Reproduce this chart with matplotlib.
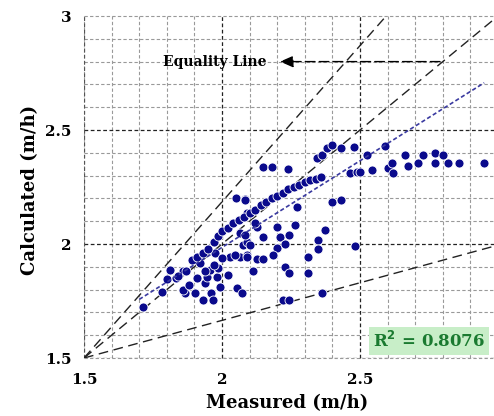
import matplotlib
matplotlib.use("Agg")
import matplotlib.pyplot as plt
import numpy as np

# scatter points (measured, calculated)
measured = [
    1.714, 1.783, 1.80, 1.833, 1.81, 1.859, 1.866, 1.902, 1.931, 1.938,
    1.945, 1.96, 1.967, 1.957, 1.982, 1.993, 1.986, 2.022, 2.054, 2.029,
    2.065, 1.975, 1.92, 2.047, 2.076, 2.09, 2.09, 2.065, 2.051, 2.083,
    2.09, 2.083, 2.127, 2.2, 2.265, 2.149, 2.21, 2.243, 2.373, 2.10,
    2.2, 2.228, 2.348, 2.348, 2.482, 2.09, 2.127, 2.149, 2.185, 2.312,
    2.112, 2.228, 2.243, 2.312, 2.072, 2.221, 2.243, 2.362, 2.083, 2.12,
    2.27, 2.40, 2.43,
    # upper row
    2.149, 2.18, 2.24, 2.344, 2.362, 2.38, 2.40, 2.43, 2.48, 2.525,
    2.59, 2.663, 2.728, 2.772, 2.80,
    # middle row
    2.464, 2.49, 2.5, 2.543, 2.60, 2.616, 2.62, 2.674, 2.71, 2.772,
    2.82, 2.86, 2.95,
    # dense band
    1.84, 1.87, 1.89, 1.91, 1.93, 1.95, 1.97, 1.985, 2.0, 2.02,
    2.04, 2.06, 2.08, 2.10, 2.12, 2.14, 2.16, 2.18, 2.20, 2.22,
    2.24, 2.26, 2.28, 2.30, 2.32, 2.34, 2.36,
    1.86, 1.88, 1.91, 1.94, 1.97, 2.0,
]
calculated = [
    1.724, 1.789, 1.846, 1.85, 1.886, 1.882, 1.785, 1.785, 1.754, 1.829,
    1.855, 1.785, 1.754, 1.886, 1.855, 1.811, 1.895, 1.864, 1.807, 1.943,
    1.943, 1.961, 1.917, 1.952, 1.996, 2.009, 1.952, 2.048, 2.202, 2.197,
    2.136, 2.04, 2.075, 2.075, 2.083, 2.031, 2.031, 2.04, 2.061, 1.996,
    1.982, 2.0, 2.018, 1.978, 1.991, 1.943, 1.934, 1.934, 1.952, 1.943,
    1.882, 1.899, 1.873, 1.873, 1.785, 1.754, 1.754, 1.785, 2.193, 2.092,
    2.162, 2.184, 2.193,
    2.338, 2.338, 2.33, 2.377, 2.39, 2.42, 2.434, 2.42, 2.425, 2.39,
    2.43, 2.39, 2.39, 2.40, 2.39,
    2.31, 2.316, 2.316, 2.325, 2.333, 2.355, 2.31, 2.342, 2.355, 2.355,
    2.355, 2.355, 2.355,
    1.86, 1.88, 1.93, 1.945, 1.96, 1.98, 2.01, 2.035, 2.055, 2.07,
    2.09, 2.105, 2.12, 2.135, 2.15, 2.17, 2.185, 2.2, 2.21, 2.225,
    2.24, 2.25, 2.26, 2.27, 2.28, 2.285, 2.295,
    1.80, 1.82, 1.85, 1.88, 1.91, 1.94,
]

# reference lines through (1.5, 1.5): slopes
ref_slopes = [1.37, 1.0, 0.33]
trend_x = [1.70, 2.95]
trend_slope, trend_icept = 0.76, 0.465

SERIF = "DejaVu Serif"
fig = plt.figure(figsize=(4.94, 4.16), dpi=100)
ax = fig.add_axes([84 / 494, 58 / 416, 414 / 494, 342 / 416])
ax.set_xlim(1.5, 3)
ax.set_ylim(1.5, 3)

# grid: gray dashed every 0.1, darker on the 0.5 lines
ticks = np.round(np.arange(1.5, 3.001, 0.1), 2)
for t in ticks:
    major = abs((t * 2) - round(t * 2)) < 1e-6 and t < 2.99 and t > 1.51
    col = "#222222" if major else "#999999"
    lw = 0.9 if major else 0.8
    ax.axvline(t, color=col, lw=lw, ls=(0, (3, 2)), zorder=1, clip_on=False)
    ax.axhline(t, color=col, lw=lw, ls=(0, (3, 2)), zorder=1, clip_on=False)
ax.axvline(1.5, color="#555555", lw=0.9, ls=(0, (3, 2)), zorder=1)
ax.axhline(1.5, color="#555555", lw=0.9, ls=(0, (3, 2)), zorder=1)
for s in ax.spines.values():
    s.set_visible(False)

for k in ref_slopes:
    xe = 3.0 if k <= 1 else 1.5 + 1.5 / k
    ax.plot([1.5, xe], [1.5, 1.5 + k * (xe - 1.5)], color="#222222",
            lw=1.0, ls=(0, (7, 4)), zorder=2)

ax.scatter(measured, calculated, s=42, color="#0a0a8c", edgecolors="white",
           linewidths=0.6, zorder=3)

tx = np.array(trend_x)
ax.plot(tx, trend_slope * tx + trend_icept, color="#3a3aa0", lw=1.2,
        ls=(0, (2.5, 1.5)), zorder=4)

ax.annotate("", xy=(2.20, 2.80), xytext=(2.80, 2.80),
            arrowprops=dict(arrowstyle="-|>,head_length=0.8,head_width=0.35",
                            color="black", lw=1.0, ls=(0, (7, 3))), zorder=5)
ax.text(1.975, 2.80, "Equality Line", family=SERIF, fontweight="bold",
        fontsize=10, ha="center", va="center", zorder=5)

ax.text(2.75, 1.575, r"R$^\mathbf{2}$ = 0.8076", family=SERIF,
        fontweight="bold", fontsize=12, color="#1a7a30", ha="center",
        va="center", zorder=6,
        bbox=dict(boxstyle="square,pad=0.25", fc="#c8eec8", ec="none"))

tick_vals = [1.5, 2, 2.5, 3]
tick_labels = ["1.5", "2", "2.5", "3"]
ax.set_xticks(tick_vals)
ax.set_xticklabels(tick_labels)
ax.set_yticks(tick_vals)
ax.set_yticklabels(tick_labels)
ax.tick_params(length=0, pad=11, labelsize=11)
ax.tick_params(axis="y", pad=9)
for lab in ax.get_xticklabels() + ax.get_yticklabels():
    lab.set_family(SERIF)
    lab.set_fontweight("bold")

fig.text(287 / 494, 1 - 403 / 416, "Measured (m/h)", family=SERIF,
         fontweight="bold", fontsize=13, ha="center", va="center")
fig.text(30 / 494, 1 - 190 / 416, "Calculated (m/h)", family=SERIF,
         fontweight="bold", fontsize=13, ha="center", va="center",
         rotation=90)

fig.savefig("out.png", dpi=100)
